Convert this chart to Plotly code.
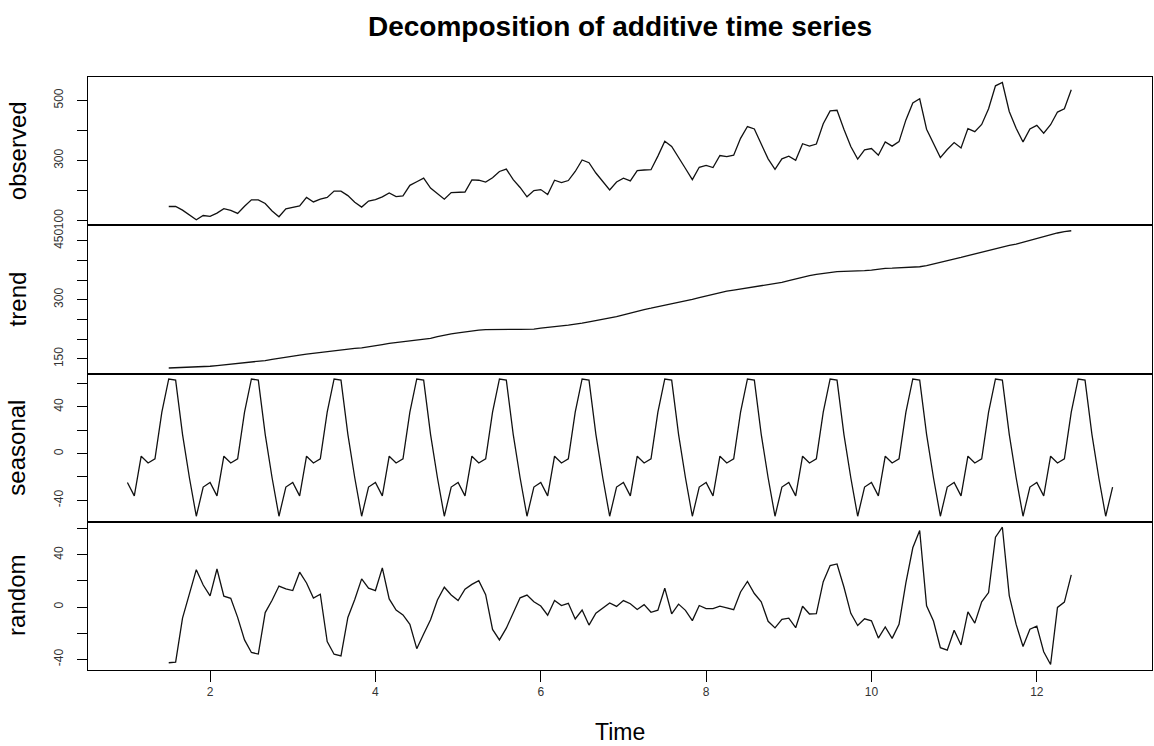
import plotly.graph_objects as go
from plotly.subplots import make_subplots

# ---------------- data (AirPassengers-like series, ts start=1, frequency=12) ----------------
start_time = 1.0
frequency = 12
first_valid = 6          # observed/trend/random start at month index 6 (Time 1.5)

observed = [
    148, 148, 136, 119, 104, 118,
    115, 126, 141, 135, 125, 149, 170, 170, 158, 133, 114, 140,
    145, 150, 178, 163, 172, 178, 199, 199, 184, 162, 146, 166,
    171, 180, 193, 181, 183, 218, 230, 242, 209, 191, 172, 194,
    196, 196, 236, 235, 229, 243, 264, 272, 237, 211, 180, 201,
    204, 188, 235, 227, 234, 264, 302, 293, 259, 229, 203, 229,
    242, 233, 267, 269, 270, 315, 364, 347, 312, 274, 237, 278,
    284, 277, 317, 313, 318, 374, 413, 405, 355, 306, 271, 306,
    315, 301, 356, 348, 355, 422, 465, 467, 404, 347, 305, 336,
    340, 318, 362, 348, 363, 435, 491, 505, 404, 359, 310, 337,
    360, 342, 406, 396, 420, 472, 548, 559, 463, 407, 362, 405,
    417, 391, 419, 461, 472, 535,
]

trend = [
    126.79, 127.25, 127.96, 128.58, 129.00, 129.75,
    131.25, 133.08, 134.92, 136.42, 137.42, 138.75, 140.92, 143.17, 145.71, 148.42, 151.54, 154.71,
    157.13, 159.54, 161.83, 164.13, 166.67, 169.08, 171.25, 173.58, 175.46, 176.83, 178.04, 180.17,
    183.13, 186.21, 189.04, 191.29, 193.58, 195.83, 198.04, 199.75, 202.21, 206.25, 210.42, 213.38,
    215.83, 218.50, 220.92, 222.92, 224.08, 224.71, 225.33, 225.33, 224.96, 224.58, 224.46, 225.54,
    228.00, 230.46, 232.25, 233.92, 235.63, 237.75, 240.50, 243.96, 247.17, 250.25, 253.50, 257.13,
    261.83, 266.67, 271.13, 275.21, 278.50, 281.96, 285.75, 289.33, 293.25, 297.17, 301.00, 305.46,
    309.96, 314.42, 318.63, 321.75, 324.50, 327.08, 329.54, 331.83, 334.46, 337.54, 340.54, 344.08,
    348.25, 353.00, 357.63, 361.38, 364.50, 367.17, 369.46, 371.21, 372.17, 372.42, 372.75, 373.63,
    375.25, 377.92, 379.50, 380.00, 380.71, 380.96, 381.83, 383.67, 386.50, 390.33, 394.71, 398.63,
    402.54, 407.17, 411.88, 416.33, 420.50, 425.50, 430.71, 435.13, 437.71, 440.96, 445.83, 450.63,
    456.33, 461.38, 465.21, 469.33, 472.75, 475.04,
]

seasonal_figure = [-24.75, -36.19, -2.24, -8.04, -4.51, 35.40,
                   63.83, 62.82, 16.52, -20.64, -53.59, -28.62]
n_years = 12
seasonal = seasonal_figure * n_years

random = [
    -42.62, -42.07, -8.48, 11.06, 28.59, 16.87,
    8.50, 29.11, 8.32, 6.62, -7.91, -25.15, -34.75, -35.99, -4.23, 5.22, 16.05, 13.91,
    12.62, 26.65, 18.41, 6.91, 9.84, -26.48, -36.08, -37.40, -7.98, 5.81, 21.55, 14.45,
    12.62, 29.98, 6.20, -2.25, -6.07, -13.23, -31.87, -20.57, -9.73, 5.39, 15.17, 9.24,
    4.92, 13.69, 17.32, 20.12, 9.43, -17.11, -25.16, -16.15, -4.48, 7.06, 9.13, 4.08,
    0.75, -6.27, 4.99, 1.12, 2.88, -9.15, -2.33, -13.78, -4.69, -0.61, 3.09, 0.49,
    4.92, 2.52, -1.89, 1.83, -3.99, -2.36, 14.42, -5.15, 2.23, -2.53, -10.41, 1.16,
    -1.21, -1.23, 0.61, -0.71, -1.99, 11.52, 19.63, 10.35, 4.02, -10.90, -15.95, -9.46,
    -8.50, -15.81, 0.61, -5.34, -4.99, 19.43, 31.71, 32.97, 15.31, -4.78, -14.16, -9.01,
    -10.50, -23.73, -15.26, -23.96, -13.20, 18.64, 45.34, 58.51, 0.98, -10.69, -31.12, -33.01,
    -17.79, -28.98, -3.64, -12.29, 4.01, 11.10, 53.46, 61.05, 8.77, -13.32, -30.24, -17.01,
    -14.58, -34.19, -43.97, -0.29, 3.76, 24.56,
]

panel_names = ["observed", "trend", "seasonal", "random"]
x_ticks = [2, 4, 6, 8, 10, 12]
y_ticks = {
    "observed": ([100, 200, 300, 400, 500], ["100", "", "300", "", "500"]),
    "trend": ([150, 200, 250, 300, 350, 400, 450], ["150", "", "", "300", "", "", "450"]),
    "seasonal": ([-40, -20, 0, 20, 40, 60], ["-40", "", "0", "", "40", ""]),
    "random": ([-40, -20, 0, 20, 40, 60], ["-40", "", "0", "", "40", ""]),
}

# ---------------- build ----------------
t_mid = [start_time + (first_valid + i) / frequency for i in range(len(observed))]
t_all = [start_time + i / frequency for i in range(len(seasonal))]
series = {
    "observed": (t_mid, observed),
    "trend": (t_mid, trend),
    "seasonal": (t_all, seasonal),
    "random": (t_mid, random),
}


def r_range(vals):
    lo, hi = min(vals), max(vals)
    d = (hi - lo) * 0.04
    return [lo - d, hi + d]


x_range = r_range(t_all)

FONT = "Liberation Sans, Arial, sans-serif"
fig = make_subplots(rows=4, cols=1, shared_xaxes=True, vertical_spacing=0)

for i, name in enumerate(panel_names, start=1):
    xs, ys = series[name]
    fig.add_trace(go.Scatter(x=xs, y=ys, mode="lines",
                             line=dict(color="#111111", width=1.3),
                             showlegend=False, hoverinfo="skip"), row=i, col=1)
    tv, tt = y_ticks[name]
    fig.update_yaxes(row=i, col=1, range=r_range(ys), showline=True, mirror=True,
                     linecolor="#000000", linewidth=1, showgrid=False, zeroline=False,
                     ticks="outside", ticklen=10, tickcolor="#000000", tickwidth=1,
                     tickvals=tv, ticktext=tt, tickangle=-90,
                     ticklabelstandoff=9,
                     tickfont=dict(family=FONT, size=12, color="#333333"))
    fig.update_xaxes(row=i, col=1, range=x_range, showline=True, mirror=True,
                     linecolor="#000000", linewidth=1, showgrid=False, zeroline=False)
    yref = "y domain" if i == 1 else f"y{i} domain"
    fig.add_annotation(text=name, xref="paper", x=0, xshift=-71, xanchor="center",
                       yref=yref, y=0.5, yanchor="middle", textangle=-90,
                       showarrow=False, font=dict(family=FONT, size=24, color="#000000"))

for i in range(1, 4):
    fig.update_xaxes(row=i, col=1, ticks="", showticklabels=False)
fig.update_xaxes(row=4, col=1, ticks="outside", ticklen=11, tickcolor="#000000",
                 tickvals=x_ticks, ticktext=[str(v) for v in x_ticks],
                 tickfont=dict(family=FONT, size=12, color="#333333"))

fig.add_annotation(text="Time", xref="paper", x=0.5, xanchor="center",
                   yref="paper", y=0, yshift=-62, yanchor="middle", showarrow=False,
                   font=dict(family=FONT, size=23, color="#000000"))
fig.add_annotation(text="<b>Decomposition of additive time series</b>", xref="paper",
                   x=0.5, xanchor="center", yref="paper", y=1, yshift=51, yanchor="middle",
                   showarrow=False, font=dict(family=FONT, size=28, color="#000000"))

fig.update_layout(width=1154, height=746, margin=dict(l=88, r=2, t=77, b=76),
                  plot_bgcolor="white", paper_bgcolor="white", showlegend=False)

fig.write_html("out.html", config={"displayModeBar": False},
               post_script="document.body.style.margin='0';document.body.style.overflow='hidden';")
